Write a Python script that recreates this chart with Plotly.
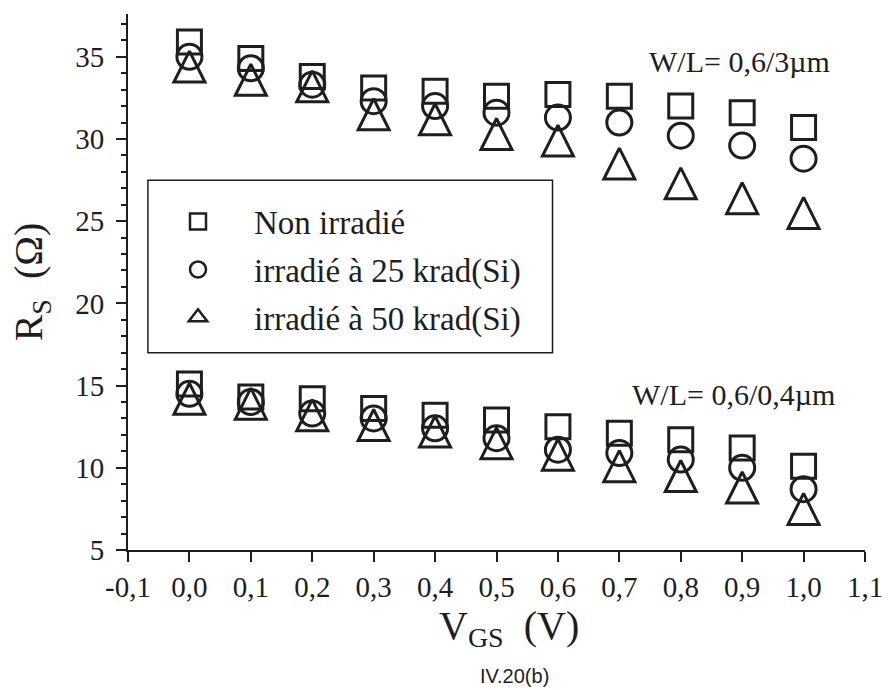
import plotly.graph_objects as go

# Gate-source voltage (V)
vgs = [0.0, 0.1, 0.2, 0.3, 0.4, 0.5, 0.6, 0.7, 0.8, 0.9, 1.0]

# Source resistance R_S (ohm), transistor W/L = 0,6/3 um
rs_long_non = [35.9, 34.9, 33.8, 33.1, 32.9, 32.6, 32.7, 32.6, 32.0, 31.6, 30.7]
rs_long_25 = [35.0, 34.3, 33.3, 32.3, 32.0, 31.6, 31.3, 31.0, 30.2, 29.6, 28.8]
rs_long_50 = [34.4, 33.6, 33.2, 31.5, 31.2, 30.3, 29.9, 28.5, 27.3, 26.4, 25.5]

# Source resistance R_S (ohm), transistor W/L = 0,6/0,4 um
rs_short_non = [15.1, 14.3, 14.2, 13.6, 13.2, 12.9, 12.5, 12.1, 11.7, 11.2, 10.1]
rs_short_25 = [14.5, 14.0, 13.3, 13.0, 12.4, 11.8, 11.1, 10.9, 10.5, 10.0, 8.7]
rs_short_50 = [14.2, 13.9, 13.2, 12.6, 12.2, 11.5, 10.8, 10.1, 9.5, 8.8, 7.5]

series_names = ["Non irradié", "irradié à 25 krad(Si)", "irradié à 50 krad(Si)"]

x_tick_vals = [-0.1, 0.0, 0.1, 0.2, 0.3, 0.4, 0.5, 0.6, 0.7, 0.8, 0.9, 1.0, 1.1]
x_tick_text = ["-0,1", "0,0", "0,1", "0,2", "0,3", "0,4", "0,5",
               "0,6", "0,7", "0,8", "0,9", "1,0", "1,1"]
y_tick_vals = [5, 10, 15, 20, 25, 30, 35]

INK = "#1e1e1e"
SERIF = "Liberation Serif, Times New Roman, serif"

# Plot symbols: the triangle uses a rotated arrow so it is as tall as it is wide
plot_markers = [
    dict(symbol="square-open", size=24, color=INK, line=dict(width=3, color=INK)),
    dict(symbol="circle-open", size=25, color=INK, line=dict(width=3, color=INK)),
    dict(symbol="arrow-down-open", size=31, angle=180, standoff=15.5,
         color=INK, line=dict(width=3, color=INK)),
]
# Legend symbols
legend_markers = [
    dict(symbol="square-open", size=16, color=INK, line=dict(width=2.5, color=INK)),
    dict(symbol="circle-open", size=16, color=INK, line=dict(width=2.5, color=INK)),
    dict(symbol="triangle-up-open", size=16, color=INK, line=dict(width=2.5, color=INK)),
]

fig = go.Figure()
groups = [
    (rs_long_non, rs_long_25, rs_long_50),
    (rs_short_non, rs_short_25, rs_short_50),
]
for group in groups:
    for si, ys in enumerate(group):
        fig.add_trace(go.Scatter(
            x=vgs, y=ys, mode="markers",
            name=series_names[si], legendgroup=series_names[si],
            showlegend=False, marker=plot_markers[si],
            cliponaxis=False,
        ))

# Legend entries (no points of their own)
for si, name in enumerate(series_names):
    fig.add_trace(go.Scatter(
        x=[None], y=[None], mode="markers", name=name,
        legendgroup=name, showlegend=True, marker=legend_markers[si],
    ))

axis_common = dict(showline=True, linewidth=2, linecolor=INK, showgrid=False,
                   zeroline=False, tickcolor=INK, tickwidth=2)

fig.update_layout(
    width=895, height=690,
    margin=dict(l=128, r=25, t=14, b=140),
    paper_bgcolor="white", plot_bgcolor="white",
    font=dict(family=SERIF, color=INK, size=29),
    xaxis=dict(range=[-0.1, 1.1], tickmode="array", tickvals=x_tick_vals,
               ticktext=x_tick_text, ticks="outside", ticklen=10,
               tickfont=dict(size=29), **axis_common),
    xaxis2=dict(range=[-0.1, 1.1], overlaying="x", side="top", anchor="y",
                tickmode="array", tickvals=x_tick_vals, ticks="inside",
                ticklen=11, showticklabels=False, **axis_common),
    yaxis=dict(range=[5, 37.6], tickmode="array", tickvals=y_tick_vals,
               ticks="outside", ticklen=10, tickfont=dict(size=29),
               ticklabelstandoff=6,
               minor=dict(dtick=1, tick0=5, ticks="outside", ticklen=5,
                          tickwidth=1.5, tickcolor=INK),
               title=dict(text="R<sub>S</sub>  (Ω)", font=dict(size=40), standoff=20),
               **axis_common),
    yaxis2=dict(range=[5, 37.6], overlaying="y", side="right", anchor="x",
                tickmode="array", tickvals=y_tick_vals, ticks="inside",
                ticklen=12, showticklabels=False,
                minor=dict(dtick=1, tick0=5, ticks="inside", ticklen=6,
                           tickwidth=1.5, tickcolor=INK),
                **axis_common),
    legend=dict(x=0.019, y=0.665, xanchor="left", yanchor="top",
                bgcolor="rgba(0,0,0,0)", borderwidth=0,
                font=dict(family=SERIF, size=33, color=INK),
                itemwidth=102, tracegroupgap=2),
    shapes=[dict(type="rect", xref="paper", yref="paper",
                 x0=0.027, x1=0.576, y0=0.368, y1=0.690,
                 line=dict(color=INK, width=1.5), fillcolor="white", layer="below")],
    annotations=[
        # x-axis title, centred slightly right of the plot middle
        dict(text="V<sub>GS</sub>  (V)", xref="paper", yref="paper", x=0.517, y=-0.145,
             xanchor="center", yanchor="middle", showarrow=False,
             font=dict(family=SERIF, size=40, color=INK)),
        dict(text="W/L= 0,6/3µm", xref="paper", yref="paper", x=0.955, y=0.912,
             xanchor="right", yanchor="middle", showarrow=False,
             font=dict(family=SERIF, size=30, color=INK)),
        dict(text="W/L= 0,6/0,4µm", xref="paper", yref="paper", x=0.962, y=0.29,
             xanchor="right", yanchor="middle", showarrow=False,
             font=dict(family=SERIF, size=30, color=INK)),
        dict(text="IV.20(b)", xref="paper", yref="paper", x=0.525, y=-0.235,
             xanchor="center", yanchor="middle", showarrow=False,
             font=dict(family="Liberation Sans, Arial, sans-serif", size=20, color=INK)),
    ],
)

fig.write_html("out.html")
